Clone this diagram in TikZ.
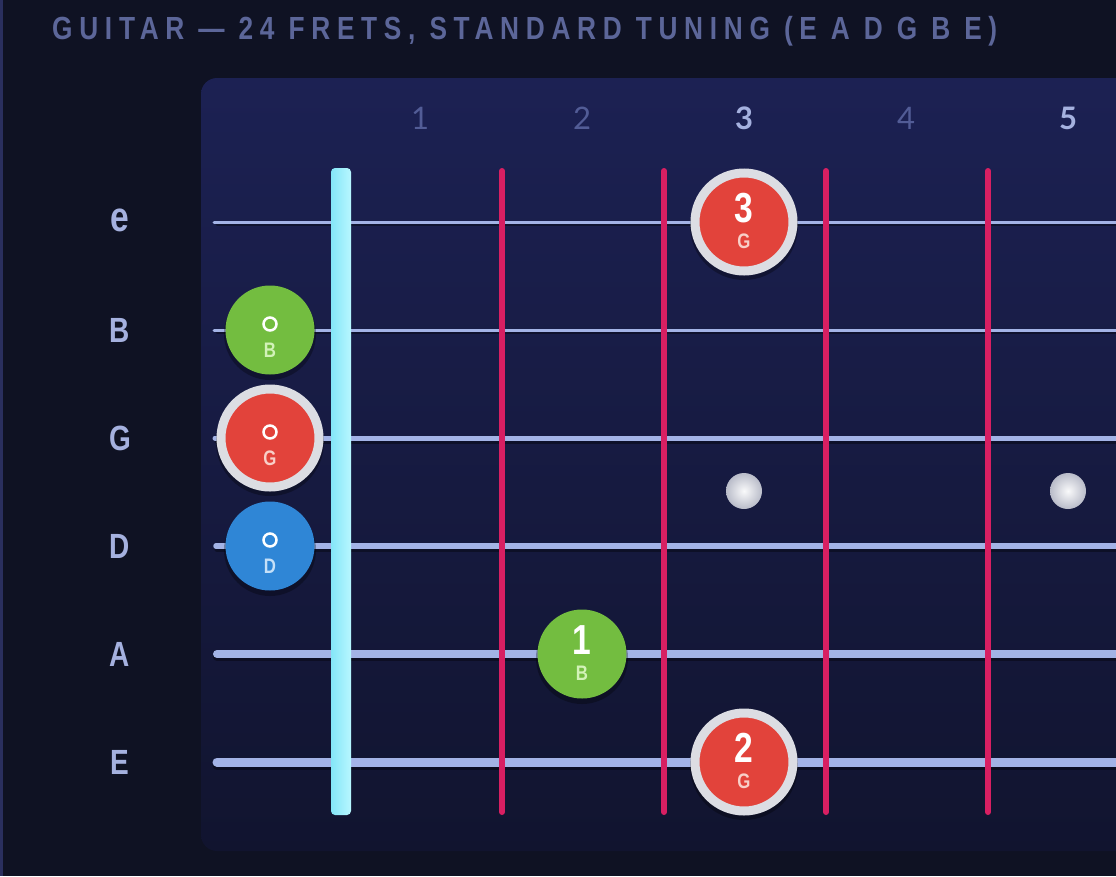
\documentclass[tikz,border=0pt]{standalone}
\usepackage{fontspec}
\setmainfont{Liberation Sans}
\newfontfamily\condfont{Liberation Sans}[FakeStretch=0.8]
\newfontfamily\titlefont{Liberation Sans}[FakeStretch=0.82,LetterSpace=21]
\newfontfamily\numfont{Lato}
\usetikzlibrary{calc}

\definecolor{bgdark}{HTML}{0F1223}
\definecolor{edgeblue}{HTML}{2A2F5E}
\definecolor{paneltop}{HTML}{1C2153}
\definecolor{panelbot}{HTML}{11142F}
\definecolor{titleblue}{HTML}{5C6699}
\definecolor{labelblue}{HTML}{A5B1DF}
\definecolor{dimnum}{HTML}{525C96}
\definecolor{stringblue}{HTML}{A3B3E6}
\definecolor{nutleft}{HTML}{84E6F8}
\definecolor{nutright}{HTML}{B8F7FF}
\definecolor{fretred}{HTML}{D81F62}
\definecolor{notered}{HTML}{E2433B}
\definecolor{notegreen}{HTML}{73BD40}
\definecolor{noteblue}{HTML}{2F86D6}
\definecolor{ringgrey}{HTML}{DCDDE3}
\definecolor{tintred}{HTML}{F8CFC8}
\definecolor{tintgreen}{HTML}{D2F2B8}
\definecolor{tintblue}{HTML}{C5E0F8}
\definecolor{inlaygrey}{HTML}{B9BCC9}

\tikzset{
  guitarstring/.style={color=stringblue, line cap=round},
  stringshadow/.style={color=black, opacity=0.35, line cap=round},
  fretwire/.style={color=fretred, line width=6pt, line cap=round},
  notedot/.style={circle, inner sep=0pt, minimum size=89pt},
  ringdot/.style={notedot, minimum size=98pt, draw=ringgrey, line width=9pt},
  bignum/.style={font=\condfont\bfseries\fontsize{42}{42}\selectfont, text=white, inner sep=0pt},
  smallname/.style={font=\condfont\bfseries\fontsize{21}{21}\selectfont, inner sep=0pt},
  stringname/.style={font=\condfont\bfseries\fontsize{35}{35}\selectfont, text=labelblue},
  fretnum/.style={font=\numfont\fontsize{31}{31}\selectfont, text=dimnum},
  fretnumbold/.style={font=\numfont\bfseries\fontsize{31}{31}\selectfont, text=labelblue},
}

\begin{document}
\begin{tikzpicture}[x=1pt, y=-1pt]
			%%%%% START %%%%%
			
			\useasboundingbox (0, 0) rectangle (1116, 876);
			\clip (0, 0) rectangle (1116, 876);
			\fill[bgdark] (0, 0) rectangle (1116, 876);
			\fill[edgeblue] (0, 0) rectangle (3, 876);
			
			\node[anchor=base west, inner sep=0pt, text=titleblue, font=\titlefont\bfseries\fontsize{32}{32}\selectfont] (title) at (52, 39) {GUITAR — 24 FRETS, STANDARD TUNING (E A D G B E)};
			
			% fretboard panel
			\shade[top color=paneltop, bottom color=panelbot, rounded corners=16pt] (201, 78) rectangle (1150, 851);
			
			% fret numbers
			\node[fretnum] (n1) at (420, 118) {1};
			\node[fretnum] (n2) at (582, 118) {2};
			\node[fretnumbold] (n3) at (744, 118) {3};
			\node[fretnum] (n4) at (906, 118) {4};
			\node[fretnumbold] (n5) at (1068, 118) {5};
			
			% string names
			\node[stringname, font=\condfont\bfseries\fontsize{42}{42}\selectfont] (se) at (120, 220) {e};
			\node[stringname] (sB) at (120, 330) {B};
			\node[stringname] (sG) at (120, 438) {G};
			\node[stringname] (sD) at (120, 546) {D};
			\node[stringname] (sA) at (120, 654) {A};
			\node[stringname] (sE) at (120, 762) {E};
			
			% strings
			\draw[stringshadow, line width=3pt] (217, 224) -- (1130, 224);
			\draw[stringshadow, line width=3pt] (217, 332) -- (1130, 332);
			\draw[stringshadow, line width=5pt] (217, 441) -- (1130, 441);
			\draw[stringshadow, line width=5.5pt] (217, 549) -- (1130, 549);
			\draw[stringshadow, line width=8pt] (217, 657) -- (1130, 657);
			\draw[stringshadow, line width=9pt] (217, 765) -- (1130, 765);
			
			\draw[guitarstring, line width=3pt] (214, 222) -- (1130, 222);
			\draw[guitarstring, line width=3pt] (214, 330) -- (1130, 330);
			\draw[guitarstring, line width=5pt] (215, 438) -- (1130, 438);
			\draw[guitarstring, line width=5.5pt] (216, 546) -- (1130, 546);
			\draw[guitarstring, line width=8pt] (217, 654) -- (1130, 654);
			\draw[guitarstring, line width=9pt] (217, 762) -- (1130, 762);
			
			% nut and frets
			\shade[left color=nutleft, right color=nutright, rounded corners=4pt] (331, 168) rectangle (351, 815);
			\draw[fretwire] (502, 171) -- (502, 812);
			\draw[fretwire] (664, 171) -- (664, 812);
			\draw[fretwire] (826, 171) -- (826, 812);
			\draw[fretwire] (988, 171) -- (988, 812);
			
			% inlays
			\shade[inner color=white!92!inlaygrey, outer color=inlaygrey] (744, 491) circle (18);
			\shade[inner color=white!92!inlaygrey, outer color=inlaygrey] (1068, 491) circle (18);
			
			% shadows under the notes
			\fill[black, opacity=0.3] (744, 226) circle (54);
			\fill[black, opacity=0.3] (270, 334) circle (46);
			\fill[black, opacity=0.3] (270, 442) circle (54);
			\fill[black, opacity=0.3] (270, 550) circle (46);
			\fill[black, opacity=0.3] (582, 658) circle (46);
			\fill[black, opacity=0.3] (744, 766) circle (54);
			
			% notes
			\node[ringdot, fill=notered] (e3) at (744, 222) {};
			\node[notedot, fill=notegreen] (b0) at (270, 330) {};
			\node[ringdot, fill=notered] (g0) at (270, 438) {};
			\node[notedot, fill=noteblue] (d0) at (270, 546) {};
			\node[notedot, fill=notegreen] (a2) at (582, 654) {};
			\node[ringdot, fill=notered] (elow3) at (744, 762) {};
			
			\node[bignum] at ($(e3)+(0, -14)$) {3};
			\node[smallname, text=tintred] at ($(e3)+(0, 19)$) {G};
			\node[bignum] at ($(a2)+(0, -14)$) {1};
			\node[smallname, text=tintgreen] at ($(a2)+(0, 19)$) {B};
			\node[bignum] at ($(elow3)+(0, -14)$) {2};
			\node[smallname, text=tintred] at ($(elow3)+(0, 19)$) {G};
			
			\draw[white, line width=2.5pt] ($(b0)+(0, -6)$) circle (6.5);
			\node[smallname, text=tintgreen] at ($(b0)+(0, 20)$) {B};
			\draw[white, line width=2.5pt] ($(g0)+(0, -6)$) circle (6.5);
			\node[smallname, text=tintred] at ($(g0)+(0, 20)$) {G};
			\draw[white, line width=2.5pt] ($(d0)+(0, -6)$) circle (6.5);
			\node[smallname, text=tintblue] at ($(d0)+(0, 20)$) {D};
			
			%%%%% END %%%%%
\end{tikzpicture}
\end{document}
